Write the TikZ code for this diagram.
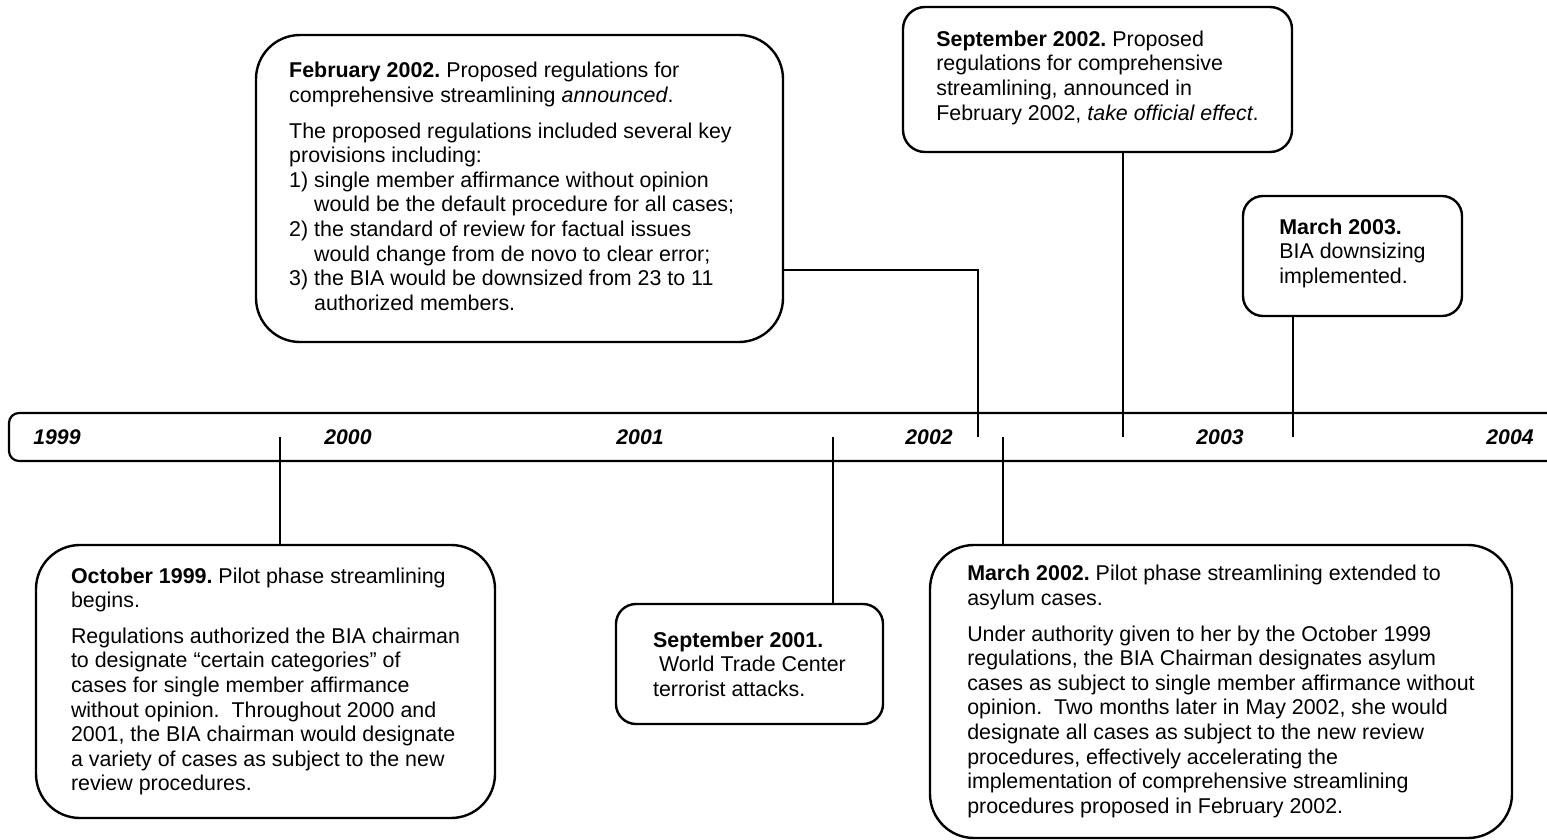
\documentclass[tikz,border=0pt]{standalone}
\usepackage{fontspec}
\setmainfont{Liberation Sans}
\frenchspacing

\begin{document}
\begin{tikzpicture}[x=0.5pt, y=-0.5pt,
    event/.style = {draw, line width=1.2pt, align=left, inner sep=0pt,
                    font=\fontsize{10.7}{12.3}\selectfont},
    year/.style  = {font=\fontsize{10.6}{12}\selectfont\bfseries\itshape},
    link/.style  = {line width=0.8pt}
  ]
    \useasboundingbox (0,0) rectangle (1547,840);

    % time axis
    \draw[line width=1.1pt, rounded corners=5pt]
        (1547,413) -- (9,413) -- (9,461) -- (1547,461);
    \node[year] (y1999) at (57,437)   {1999};
    \node[year] (y2000) at (348,437)  {2000};
    \node[year] (y2001) at (640,437)  {2001};
    \node[year] (y2002) at (929,437)  {2002};
    \node[year] (y2003) at (1220,437) {2003};
    \node[year] (y2004) at (1510,437) {2004};

    % events above the axis
    \node[event, rounded corners=22pt, minimum width=263.5pt, minimum height=153.5pt]
        (feb02) at (519.5,188.5)
        {\textbf{February 2002.} Proposed regulations for\\
         comprehensive streamlining \textit{announced}.\\[5.5pt]
         The proposed regulations included several key\rule{9pt}{0pt}\\
         provisions including:\\
         1) single member affirmance without opinion\\
         \phantom{1)} would be the default procedure for all cases;\\
         2) the standard of review for factual issues\\
         \phantom{2)} would change from de novo to clear error;\\
         3) the BIA would be downsized from 23 to 11\\
         \phantom{3)} authorized members.};
    \node[event, rounded corners=11pt, minimum width=194.5pt, minimum height=72.5pt]
        (sep02) at (1097.5,79.5)
        {\textbf{September 2002.} Proposed\\
         regulations for comprehensive\\
         streamlining, announced in\\
         February 2002, \textit{take official effect}.\rule[-4pt]{0pt}{0pt}};
    \node[event, rounded corners=10pt, minimum width=109.5pt, minimum height=60pt]
        (mar03) at (1352.5,256)
        {\textbf{March 2003.}\\
         BIA downsizing\\
         implemented.\rule[-5pt]{0pt}{0pt}};

    % events below the axis
    \node[event, rounded corners=22pt, minimum width=229.5pt, minimum height=136.5pt]
        (oct99) at (265.5,681.5)
        {\textbf{October 1999.} Pilot phase streamlining\\
         begins.\\[5.5pt]
         Regulations authorized the BIA chairman\\
         to designate “certain categories” of\\
         cases for single member affirmance\\
         without opinion.~ Throughout 2000 and\\
         2001, the BIA chairman would designate\\
         a variety of cases as subject to the new\\
         review procedures.};
    \node[event, rounded corners=10pt, minimum width=133.5pt, minimum height=60pt]
        (sep01) at (749.5,664)
        {\textbf{September 2001.}\\
         \hspace*{0.28em}World Trade Center\\
         terrorist attacks.};
    \node[event, rounded corners=22pt, minimum width=291pt, minimum height=146.5pt]
        (mar02) at (1221,691.5)
        {\textbf{March 2002.} Pilot phase streamlining extended to\\
         asylum cases.\\[5.5pt]
         Under authority given to her by the October 1999\\
         regulations, the BIA Chairman designates asylum\\
         cases as subject to single member affirmance without\\
         opinion.~ Two months later in May 2002, she would\\
         designate all cases as subject to the new review\\
         procedures, effectively accelerating the\\
         implementation of comprehensive streamlining\\
         procedures proposed in February 2002.};

    % ticks
    \coordinate (t-oct99) at (280,437);
    \coordinate (t-sep01) at (833,437);
    \coordinate (t-feb02) at (978,437);
    \coordinate (t-mar02) at (1003,437);
    \coordinate (t-sep02) at (1123,437);
    \coordinate (t-mar03) at (1293,437);
    \coordinate (bend)    at (978,270);

    \draw[link] (t-oct99) -- (t-oct99 |- oct99.north);
    \draw[link] (t-sep01) -- (t-sep01 |- sep01.north);
    \draw[link] (t-mar02) -- (t-mar02 |- mar02.north);
    \draw[link] (feb02.east |- bend) -- (bend) -- (t-feb02);
    \draw[link] (t-sep02) -- (t-sep02 |- sep02.south);
    \draw[link] (t-mar03) -- (t-mar03 |- mar03.south);
\end{tikzpicture}
\end{document}
